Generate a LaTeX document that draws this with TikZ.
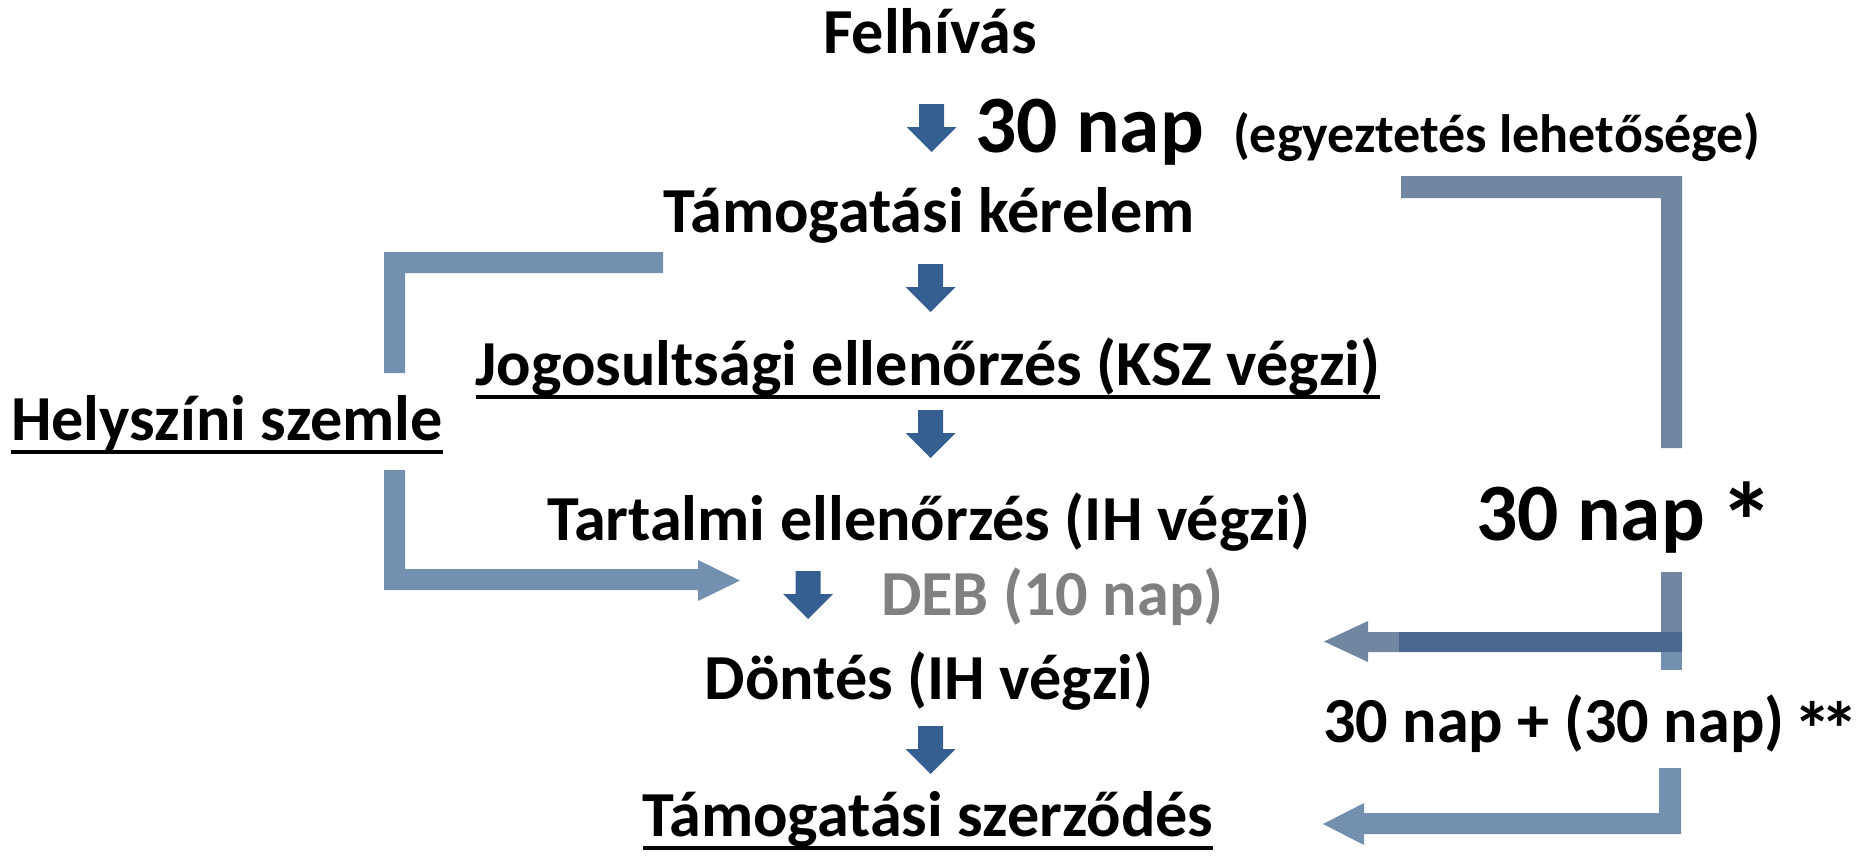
\documentclass[tikz,border=0pt]{standalone}
\usepackage{fontspec}
\setmainfont{Carlito}
\definecolor{darrow}{RGB}{54,95,145}
\definecolor{lconn}{RGB}{115,144,176}
\definecolor{rconn}{RGB}{113,134,160}
\definecolor{ovl}{RGB}{74,105,144}
\definecolor{debgray}{RGB}{128,128,128}
\newcommand\szA{\fontsize{64.2}{72}\selectfont}
\newcommand\szB{\fontsize{81.5}{90}\selectfont}
\newcommand\szC{\fontsize{54}{60}\selectfont}
\newcommand\astA{\makebox[0.58em][c]{\raisebox{-0.25em}{\scalebox{1.35}{*}}}}
\newcommand\astB{\makebox[0.42em][c]{\raisebox{-0.22em}{\scalebox{1.2}{*}}}}
\tikzset{
  lbl/.style={inner sep=0pt, outer sep=0pt, font=\bfseries\szA, anchor=base},
  uline/.style={line width=4.5pt},
  downarr/.pic={\fill[darrow] (-12.5,0) -- (12.5,0) -- (12.5,23) -- (25,23) -- (0,48) -- (-25,23) -- (-12.5,23) -- cycle;}
}
\begin{document}
\begin{tikzpicture}[x=1pt,y=-1pt]
\useasboundingbox (0,0) rectangle (1862,859);
% texts
\node[lbl] (felh) at (930,53) {Felhívás};
\node[lbl, anchor=base west, font=\bfseries\szB] (n30) at (975,152) {30 nap};
\node[lbl, anchor=base west, font=\bfseries\szC] (egy) at (1233,152) {(egyeztetés lehetősége)};
\node[lbl] (tker) at (929,232) {Támogatási kérelem};
\node[lbl] (jog) at (928,385) {Jogosultsági ellenőrzés (KSZ végzi)};
\node[lbl] (tart) at (929,540) {Tartalmi ellenőrzés (IH végzi)};
\node[lbl, anchor=base west, text=debgray] (deb) at (881,615) {DEB (10 nap)};
\node[lbl] (dont) at (929,699) {Döntés (IH végzi)};
\node[lbl] (szerz) at (928,836) {Támogatási szerződés};
\node[lbl, anchor=base west] (hely) at (11,440) {Helyszíni szemle};
\node[lbl, anchor=base west, font=\bfseries\szB] (n30b) at (1476,540) {30 nap \astA};
\node[lbl, anchor=base west] (n3030) at (1323,742) {30 nap + (30 nap) \astB\astB};
% underlines
\draw[uline] ([yshift=-12pt]jog.base west) -- ([yshift=-12pt]jog.base east);
\draw[uline] ([yshift=-12pt]szerz.base west) -- ([yshift=-12pt]szerz.base east);
\draw[uline] ([yshift=-12pt]hely.base west) -- ([yshift=-12pt]hely.base east);
% down arrows
\pic at (931.5,104) {downarr};
\pic at (930.5,264) {downarr};
\pic at (930.5,410) {downarr};
\pic at (808,571) {downarr};
\pic at (930.5,726) {downarr};
% left connectors
\fill[lconn] (663,252) -- (384,252) -- (384,373) -- (405,373) -- (405,273) -- (663,273) -- cycle;
\fill[lconn] (384,470) -- (405,470) -- (405,569) -- (698,569) -- (698,560) -- (740,580.5) -- (698,601) -- (698,590) -- (384,590) -- cycle;
% right top connector
\fill[rconn] (1401,176) -- (1682,176) -- (1682,448) -- (1661,448) -- (1661,198) -- (1401,198) -- cycle;
% right middle connector
\fill[rconn] (1661,572) rectangle (1682,652);
\fill[rconn] (1682,632) -- (1368,632) -- (1368,621) -- (1324,641.5) -- (1368,662) -- (1368,652) -- (1682,652) -- cycle;
\fill[ovl] (1399,632) rectangle (1682,652);
\fill[lconn] (1661,652) rectangle (1682,670);
% right bottom connector
\fill[lconn] (1659,768) -- (1681,768) -- (1681,834) -- (1364,834) -- (1364,845) -- (1323,824) -- (1364,803) -- (1364,813) -- (1659,813) -- cycle;
\end{tikzpicture}
\end{document}
